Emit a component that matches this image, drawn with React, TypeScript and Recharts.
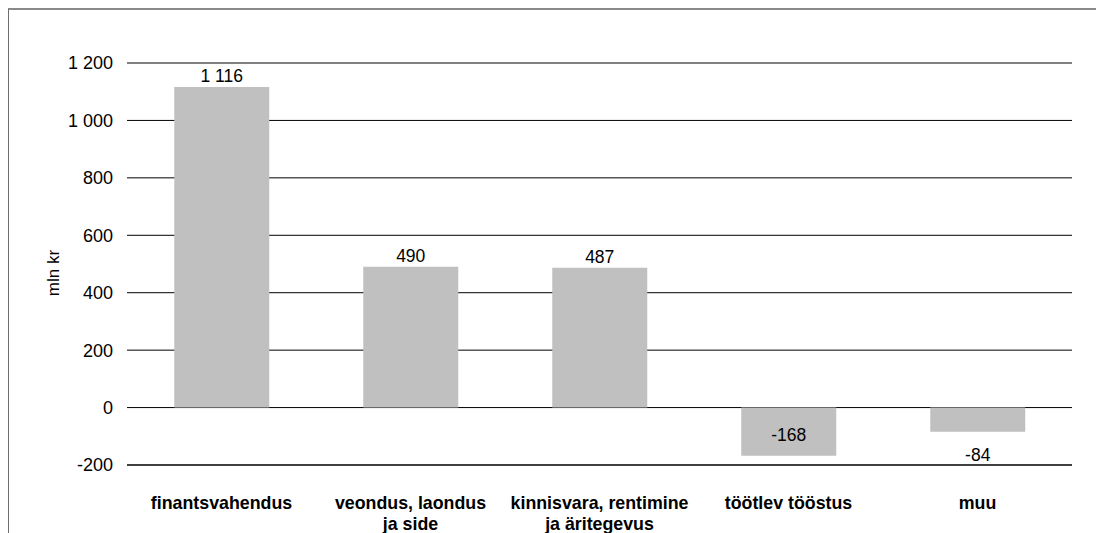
import React from 'react';
import { BarChart, Bar, XAxis, YAxis, CartesianGrid, LabelList } from 'recharts';

const categories: string[] = [
  'finantsvahendus',
  'veondus, laondus\nja side',
  'kinnisvara, rentimine\nja äritegevus',
  'töötlev tööstus',
  'muu',
];
const values: number[] = [1116, 490, 487, -168, -84];
const yTicks: number[] = [-200, 0, 200, 400, 600, 800, 1000, 1200];
const yDomain: [number, number] = [-200, 1200];
const yLabel = 'mln kr';

const data = categories.map((c, i) => ({ name: c, value: values[i] }));

const FONT = '"Liberation Sans", Arial, Helvetica, sans-serif';

const fmt = (v: number) => {
  const s = String(Math.abs(v)).replace(/\B(?=(\d{3})+(?!\d))/g, ' ');
  return v < 0 ? '-' + s : s;
};

const CategoryTick = (props: any) => {
  const { x, y, payload } = props;
  const lines = String(payload.value).split('\n');
  return (
    <text
      x={x}
      y={y + 36}
      textAnchor="middle"
      fontFamily={FONT}
      fontSize={17.8}
      fontWeight="bold"
      fill="#000"
    >
      {lines.map((l, i) => (
        <tspan key={i} x={x} dy={i === 0 ? 0 : 21}>
          {l}
        </tspan>
      ))}
    </text>
  );
};

const ValueLabel = (props: any) => {
  const { x, y, width, height, value } = props;
  const v = Number(value);
  const top = Math.min(y, y + height);
  const bottom = Math.max(y, y + height);
  const cx = x + width / 2;
  let ty: number;
  if (v >= 0) {
    ty = top - 5;
  } else {
    const zeroY = top;
    const ppu = Math.abs(height) / Math.abs(v);
    const axisY = zeroY + (0 - yDomain[0]) * ppu;
    ty = bottom + 29 > axisY ? bottom - 15 : bottom + 29;
  }
  return (
    <text x={cx} y={ty} textAnchor="middle" fontFamily={FONT} fontSize={17.5} fill="#000">
      {fmt(v)}
    </text>
  );
};

const YLabel = (props: any) => {
  const { viewBox } = props;
  const cx = viewBox.x + 6;
  const cy = viewBox.y + viewBox.height / 2 + 9;
  return (
    <text
      x={cx}
      y={cy}
      transform={`rotate(-90, ${cx}, ${cy})`}
      textAnchor="middle"
      dominantBaseline="central"
      fontFamily={FONT}
      fontSize={17}
      fill="#000"
    >
      {yLabel}
    </text>
  );
};

export default function App() {
  return (
    <div
      style={{
        width: 1096,
        height: 525,
        borderLeft: '1px solid #6e6e6e',
        borderTop: '2px solid #8a8a8a',
        boxSizing: 'border-box',
        overflow: 'hidden',
        background: '#fff',
      }}
    >
      <BarChart
        width={1095}
        height={523}
        data={data}
        margin={{ top: 53, right: 32, bottom: 0, left: 38 }}
        barCategoryGap="25%"
      >
        <CartesianGrid vertical={false} stroke="#000" strokeWidth={1} />
        <XAxis
          dataKey="name"
          height={68}
          tickLine={false}
          axisLine={{ stroke: '#404040', strokeWidth: 2 }}
          tick={<CategoryTick />}
          interval={0}
        />
        <YAxis
          width={80}
          domain={yDomain}
          ticks={yTicks}
          interval={0}
          axisLine={false}
          tickLine={false}
          tickSize={0}
          tickMargin={14}
          tickFormatter={fmt}
          tick={{ fontFamily: FONT, fontSize: 18, fill: '#000' }}
          label={<YLabel />}
        />
        <Bar dataKey="value" fill="#c0c0c0" isAnimationActive={false}>
          <LabelList dataKey="value" content={<ValueLabel />} />
        </Bar>
      </BarChart>
    </div>
  );
}
